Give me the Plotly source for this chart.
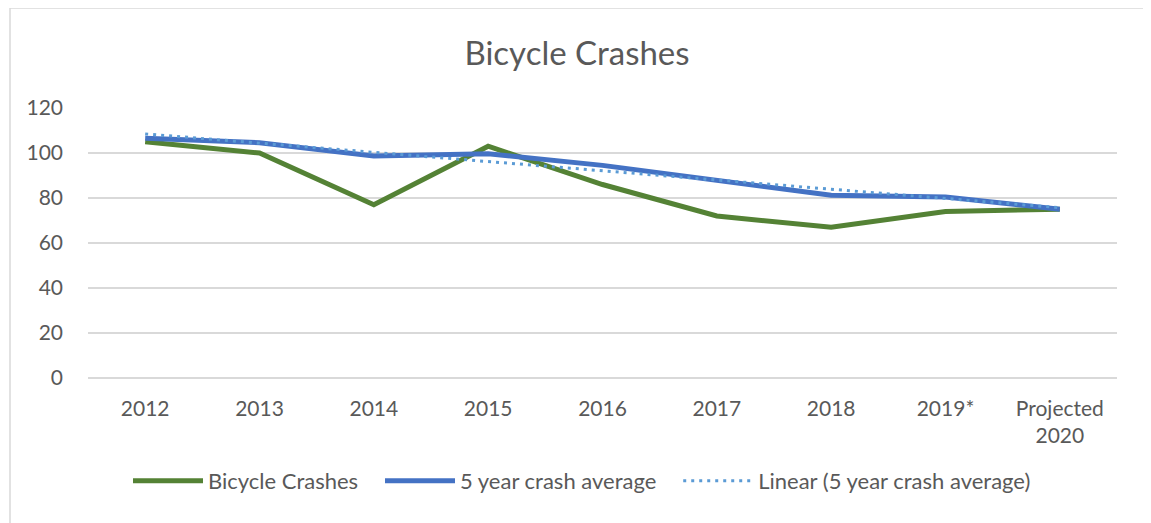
import plotly.graph_objects as go

categories = ["2012", "2013", "2014", "2015", "2016", "2017", "2018", "2019*", "Projected<br>2020"]
bicycle_crashes = [105, 100, 77, 103, 86, 72, 67, 74, 75]
five_year_avg = [106.6, 104.6, 98.7, 99.7, 94.5, 87.9, 81.2, 80.4, 75]
linear_trend = [108.5, 104.4, 100.3, 96.2, 92.1, 88.0, 83.9, 79.8, 75.7]
y_ticks = [0, 20, 40, 60, 80, 100, 120]

# the page body has an 8px margin, so the figure starts at (8, 8) in the window
OFF = 8
W, H = 1151 - OFF, 523 - OFF
ML, MR, MT, MB = 88 - OFF, 34, 108 - OFF, 145
PW, PH = W - ML - MR, H - MT - MB

def px_x(p):
    return (p - OFF - ML) / PW

def px_y(p):
    return (H - MB - (p - OFF)) / PH

FONT = "Lato"
GREY = "#595959"
NB = "\u00a0"

fig = go.Figure()
fig.add_trace(go.Scatter(x=categories, y=bicycle_crashes, mode="lines", name="Bicycle Crashes" + NB * 3,
                         line=dict(color="#548235", width=5)))
fig.add_trace(go.Scatter(x=categories, y=five_year_avg, mode="lines", name="5 year crash average" + NB * 3,
                         line=dict(color="#4472C4", width=5)))
fig.add_trace(go.Scatter(x=categories, y=linear_trend, mode="lines", name="Linear (5 year crash average)",
                         line=dict(color="#5B9BD5", width=3, dash="3px,5px")))

fig.update_layout(
    width=W, height=H,
    margin=dict(l=ML, r=MR, t=MT, b=MB),
    paper_bgcolor="white", plot_bgcolor="white",
    font=dict(family=FONT, color=GREY, size=21),
    title=dict(text="Bicycle Crashes", x=(577 - OFF) / W, xref="container", xanchor="center",
               y=1 - (53 - OFF) / H, yref="container", yanchor="middle",
               font=dict(family=FONT, size=33, color=GREY)),
    xaxis=dict(type="category", range=[-0.5, len(categories) - 0.5], showgrid=False, zeroline=False,
               showline=False, ticks="", tickfont=dict(size=21, color=GREY), ticklabelstandoff=16),
    yaxis=dict(range=[0, 120], tickvals=y_ticks, showgrid=True, gridcolor="#D9D9D9", gridwidth=1.5,
               zeroline=True, zerolinecolor="#D9D9D9", zerolinewidth=1.5, showline=False,
               ticks="", tickfont=dict(size=21, color=GREY), ticklabelstandoff=24),
    legend=dict(orientation="h", x=(582 - OFF) / W, xref="container", xanchor="center",
                y=1 - (481 - OFF) / H, yref="container", yanchor="middle",
                font=dict(size=22, color=GREY), itemwidth=70, bgcolor="rgba(0,0,0,0)",
                traceorder="normal"),
    showlegend=True,
    shapes=[dict(type="rect", xref="paper", yref="paper",
                 x0=px_x(10), x1=px_x(1146), y0=px_y(540), y1=px_y(8),
                 line=dict(color="#D9D9D9", width=1.5), fillcolor="rgba(0,0,0,0)", layer="below")],
)

fig.write_html("out.html")
